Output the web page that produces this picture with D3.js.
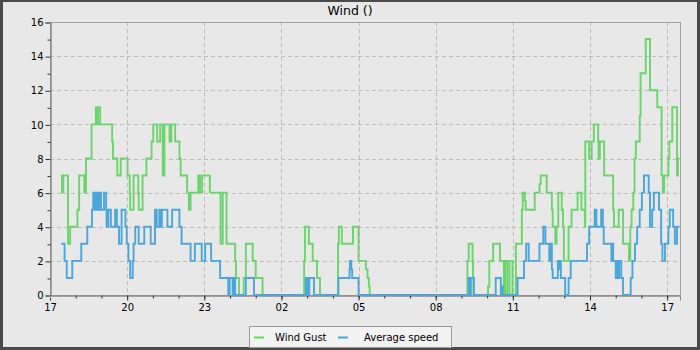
<!DOCTYPE html>
<meta charset="utf-8">
<style>
body { margin: 0; }
text { font-family: "DejaVu Sans", sans-serif; fill: #000; }
.grid line { stroke: #bdbdbd; stroke-dasharray: 4,3; }
</style>
<body>
<svg width="700" height="350"></svg>
<script src="https://cdn.jsdelivr.net/npm/d3@7"></script>
<script>

// minutes after 17:00, value (step data)
var gust = [[26,7],[28,6],[31,7],[42,3],[47,4],[64,5],[68,7],[80,6],[84,8],[97,10],[107,11],[110,10],[112,11],
  [117,10],[145,9],[147,8],[157,7],[165,8],[181,7],[186,6],[187,5],[195,7],[206,6],[207,5],[216,7],[225,8],
  [237,9],[241,10],[250,9],[257,10],[263,7],[267,10],[279,9],[283,10],[292,9],[302,8],[305,7],[320,6],[324,5],
  [328,6],[346,7],[350,6],[355,7],[373,6],[398,3],[403,6],[412,3],[432,2],[434,1],[441,0],[452,1],[457,3],
  [473,2],[480,1],[496,0],[593,2],[595,4],[604,3],[613,2],[623,1],[630,0],[672,3],[674,4],[681,3],[707,4],
  [720,2],[737,1.5],[741,1],[744,0.5],[746,0],[974,2],[977,3],[986,2],[987,1],[988,0],[1022,0.5],[1025,2],
  [1034,3],[1050,2],[1059,0],[1062,2],[1067,0],[1072,2],[1079,0],[1087,3],[1101,5],[1103,6],[1108,5.5],
  [1110,5],[1131,6],[1142,6.5],[1145,7],[1159,6],[1171,5],[1173,4],[1179,3],[1182,4],[1186,6],[1194,5],
  [1197,4],[1199,2],[1210,4],[1217,5],[1231,6],[1240,5],[1248,4],[1249,9],[1258,8],[1264,9],[1269,10],
  [1279,9],[1280,8],[1283,9],[1293,7],[1314,5],[1316,4],[1327,5],[1337,3],[1351,2],[1354,4],[1357,5],
  [1361,6],[1364,8],[1367,9],[1376,10.5],[1378,13],[1390,15],[1400,12],[1417,11],[1427,7],[1430,6],[1433,7],
  [1443,8],[1445,9],[1452,11],[1463,7],[1465,8],[1469,8]];

var avg = [[26,3],[34,2],[39,1],[52,2],[73,3],[87,4],[98,5],[101,6],[104,5],[105,6],[108,5],[110,6],[113,5],
  [115,6],[119,5],[126,6],[131,5],[132,4],[136,5],[142,4],[152,5],[156,4],[161,3],[167,5],[176,4],[179,3],
  [183,2],[187,1],[193,2],[195,3],[199,4],[207,3],[220,4],[235,3],[245,5],[249,4],[255,5],[257,4],[261,5],
  [274,4],[285,5],[302,4],[307,3],[328,2],[338,3],[354,2],[362,3],[376,2],[397,1],[416,0],[419,1],[426,0],
  [428,1],[432,0],[457,1],[476,0],[597,1],[599,0],[600,1],[604,0],[605,1],[616,0],[673,1],[699,1.5],[700,2],
  [703,1.5],[705,1],[720,0],[977,1],[980,0],[982,1],[989,0],[1040,1],[1052,0],[1054,0.5],[1056,0],[1091,1],
  [1106,2],[1111,3],[1117,2],[1142,3],[1151,4],[1156,3],[1165,2],[1167,3],[1171,1.5],[1173,1],[1185,2],
  [1188,1.5],[1190,2],[1192,1],[1202,0],[1210,1],[1215,2],[1253,3],[1258,4],[1271,5],[1275,4],[1286,5],
  [1290,4],[1292,3],[1310,2],[1312,3],[1314,2],[1320,1],[1322,2],[1324,1],[1328,2],[1333,1],[1337,0],
  [1355,1],[1359,2],[1365,3],[1370,4],[1376,5],[1381,6],[1386,7],[1397,6],[1400,4],[1405,5],[1409,6],
  [1421,5],[1426,3],[1429,2],[1435,3],[1443,4],[1446,5],[1454,4],[1458,3],[1463,4],[1469,4]];

var seriesNames = ["Wind Gust", "Average speed"];
var seriesColors = ["#6cd46c", "#4ca6da"];
var yTicks = [0, 2, 4, 6, 8, 10, 12, 14, 16];
var title = "Wind ()";

var svg = d3.select("svg"),
    width = +svg.attr("width"),
    height = +svg.attr("height");

var pLeft = 50, pRight = 680, pTop = 22, pBottom = 295;

var t0 = new Date(2024, 0, 1, 17, 0);
function tm(m) { return new Date(t0.getTime() + m * 60000); }

var x = d3.scaleTime().domain([t0, tm(1470)]).range([pLeft, pRight]);
var y = d3.scaleLinear().domain([0, 16]).range([pBottom, pTop]);

// background + dark frame
svg.append("rect").attr("width", width).attr("height", height).attr("fill", "#4a4a4a");
svg.append("rect").attr("x", 3).attr("y", 2).attr("width", 694).attr("height", 345).attr("fill", "#e8e8e8");

svg.append("text")
    .attr("x", 350).attr("y", 15)
    .attr("text-anchor", "middle")
    .style("font-size", "12.5px")
    .text(title);

var xMajor = d3.range(0, 1471, 180).map(tm);
var xMinor = d3.range(60, 1471, 60).map(tm);

// grid
var grid = svg.append("g").attr("class", "grid");
grid.selectAll(".gy").data(yTicks.slice(1, -1)).enter().append("line")
    .attr("x1", pLeft).attr("x2", pRight)
    .attr("y1", function(d) { return Math.round(y(d)) + 0.5; })
    .attr("y2", function(d) { return Math.round(y(d)) + 0.5; });
grid.selectAll(".gx").data(xMajor.slice(1)).enter().append("line")
    .attr("y1", pTop).attr("y2", pBottom)
    .attr("x1", function(d) { return Math.round(x(d)) + 0.5; })
    .attr("x2", function(d) { return Math.round(x(d)) + 0.5; });

// frame
svg.append("rect")
    .attr("x", pLeft + 0.5).attr("y", pTop + 0.5)
    .attr("width", pRight - pLeft).attr("height", pBottom - pTop)
    .attr("fill", "none").attr("stroke", "#a0a0a0");

// axes
svg.append("g")
    .attr("transform", "translate(" + (pLeft + 0.5) + ",0.5)")
    .call(d3.axisLeft(y).tickValues(yTicks).tickSize(5).tickPadding(2).tickFormat(d3.format("d")));
svg.append("g")
    .attr("transform", "translate(" + (pLeft + 0.5) + ",0.5)")
    .call(d3.axisLeft(y).tickValues(d3.range(1, 16, 2)).tickSize(3).tickFormat(""));

svg.append("g")
    .attr("transform", "translate(0," + (pBottom + 0.5) + ")")
    .call(d3.axisBottom(x).tickValues(xMajor).tickSize(5).tickPadding(3).tickFormat(d3.timeFormat("%H")));
svg.append("g")
    .attr("transform", "translate(0," + (pBottom + 0.5) + ")")
    .call(d3.axisBottom(x).tickValues(xMinor).tickSize(3).tickFormat(""));

svg.selectAll(".domain").attr("stroke", "#8a8a8a");
svg.selectAll(".tick line").attr("stroke", "#333");
svg.selectAll(".tick text").style("font-size", "10px").attr("fill", "#000");

// series
var line = d3.line()
    .x(function(d) { return x(tm(d[0])); })
    .y(function(d) { return y(d[1]); })
    .curve(d3.curveStepAfter);

[gust, avg].forEach(function(s, i) {
  svg.append("path")
      .datum(s)
      .attr("fill", "none")
      .attr("stroke", seriesColors[i])
      .attr("stroke-width", 1.9)
      .attr("d", line);
});

// legend
var lg = svg.append("g");
lg.append("rect")
    .attr("x", 249.5).attr("y", 326.5).attr("width", 202).attr("height", 21)
    .attr("fill", "#f2f2f2").attr("stroke", "#999");
var legX = [254, 338], legTx = [275, 364];
seriesNames.forEach(function(n, i) {
  lg.append("line")
      .attr("x1", legX[i]).attr("x2", legX[i] + 10)
      .attr("y1", 337.5).attr("y2", 337.5)
      .attr("stroke", seriesColors[i]).attr("stroke-width", 2);
  lg.append("text")
      .attr("x", legTx[i]).attr("y", 341)
      .style("font-size", "10px")
      .text(n);
});

</script>
</body>
